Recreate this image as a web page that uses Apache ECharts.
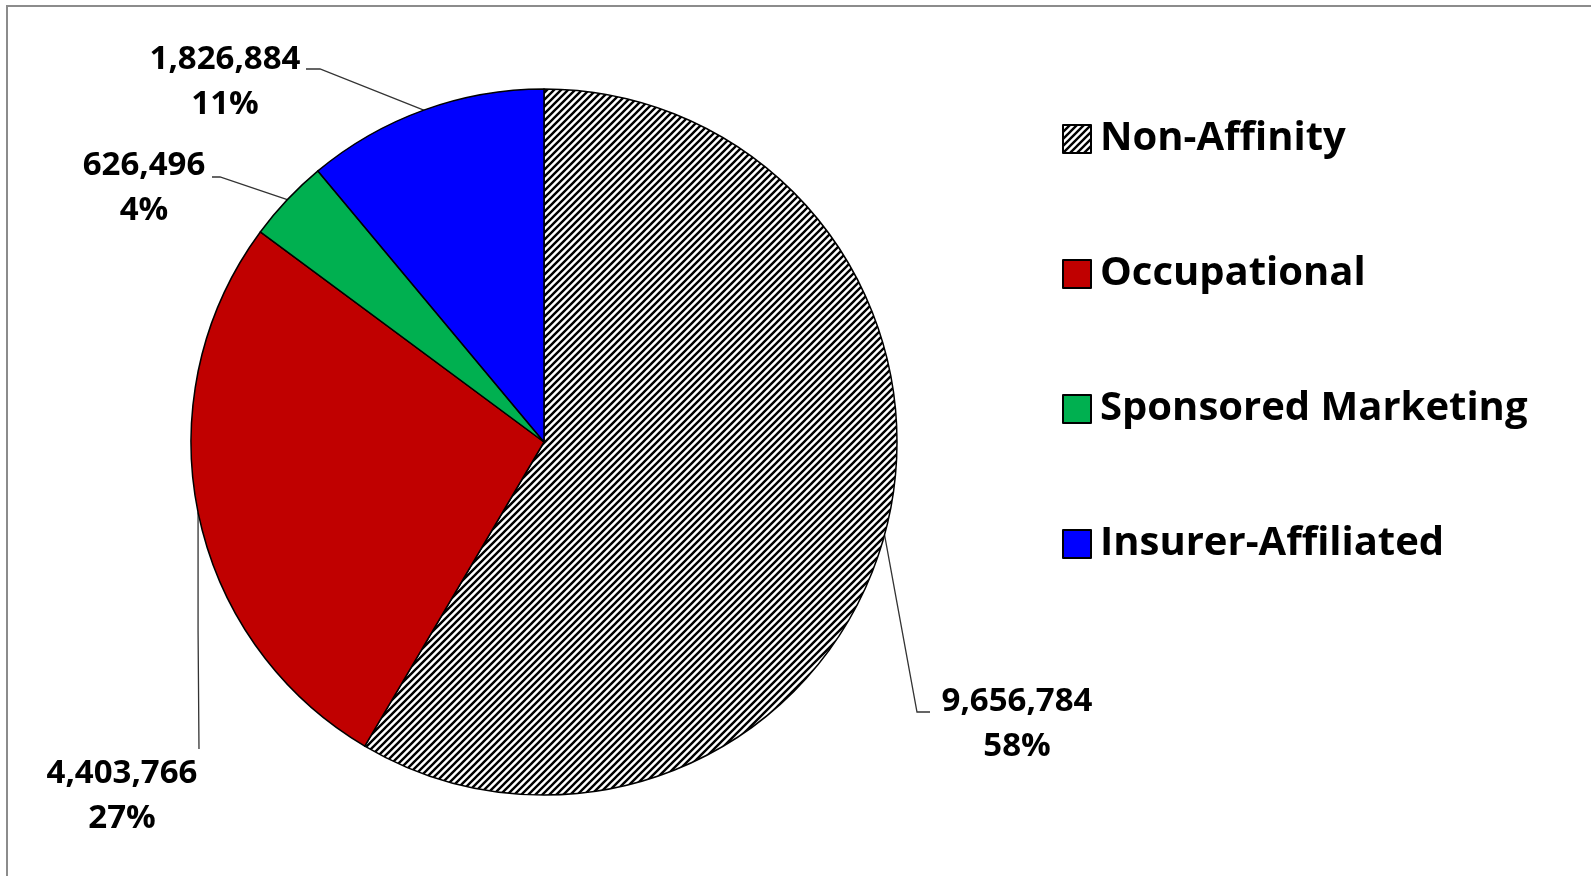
<!DOCTYPE html>
<html>
<head>
<meta charset="utf-8">
<script src="https://cdn.jsdelivr.net/npm/echarts@6/dist/echarts.min.js"></script>
<style>
  html, body { margin: 0; padding: 0; background: #fff; }
  #chart { width: 1591px; height: 876px; }
  #frame {
    position: absolute; left: 6px; top: 5px; right: 0; bottom: 0;
    border-top: 2px solid #8c8c8c; border-left: 2px solid #8c8c8c;
    pointer-events: none;
  }
</style>
</head>
<body>
<div id="chart"></div>
<div id="frame"></div>
<script>
// categories and values, clockwise from 12 o'clock
const categories = ["Non-Affinity", "Occupational", "Sponsored Marketing", "Insurer-Affiliated"];
const values = [9656784, 4403766, 626496, 1826884];
const colors = ["hatch", "#C00000", "#00B050", "#0000FF"];

// where each label block sits and how its leader line bends
const labelSpots = [
  { x: 1017, y: 724, line: [[917, 712], [930, 712]] },
  { x: 122, y: 796, line: [null, [199, 749]] },
  { x: 144, y: 188, line: [[220, 177], [212, 177]] },
  { x: 225, y: 82, line: [[320, 69], [306, 69]] }
];

// diagonal "/" hatch used for Non-Affinity
function makeHatch() {
  const s = 7;
  const c = document.createElement("canvas");
  c.width = s; c.height = s;
  const g = c.getContext("2d");
  g.fillStyle = "#fff";
  g.fillRect(0, 0, s, s);
  g.strokeStyle = "#000";
  g.lineWidth = 2.4;
  g.beginPath();
  g.moveTo(-1, s + 1); g.lineTo(s + 1, -1);
  g.moveTo(-2, 2); g.lineTo(2, -2);
  g.moveTo(s - 2, s + 2); g.lineTo(s + 2, s - 2);
  g.stroke();
  return { image: c, repeat: "repeat" };
}

const hatch = makeHatch();

const chart = echarts.init(document.getElementById("chart"));

const option = {
  backgroundColor: "#fff",
  animation: false,
  legend: {
    orient: "vertical",
    left: 1062,
    top: 116,
    padding: 0,
    itemWidth: 28,
    itemHeight: 28,
    itemGap: 89,
    icon: "rect",
    data: categories,
    textStyle: {
      fontFamily: "Open Sans",
      fontWeight: "bold",
      fontSize: 40,
      lineHeight: 46,
      color: "#000",
      padding: [0, 0, 0, 4]
    }
  },
  series: [
    {
      type: "pie",
      center: [544, 442],
      radius: 353,
      startAngle: 90,
      clockwise: true,
      avoidLabelOverlap: false,
      itemStyle: { borderColor: "#000", borderWidth: 1.5 },
      label: {
        show: true,
        color: "#000",
        fontFamily: "Open Sans",
        fontWeight: "bold",
        fontSize: 33,
        lineHeight: 45,
        align: "center",
        formatter: function (p) {
          return p.value.toLocaleString("en-US") + "\n" + Math.round(p.percent) + "%";
        }
      },
      labelLine: {
        show: true,
        smooth: false,
        lineStyle: { color: "#333", width: 1.3 }
      },
      labelLayout: function (params) {
        const spot = labelSpots[params.dataIndex];
        const start = params.labelLinePoints ? params.labelLinePoints[0] : null;
        let pts = null;
        if (start) {
          const mid = spot.line[0] || [start[0], (start[1] + spot.line[1][1]) / 2];
          pts = [start, mid, spot.line[1]];
        }
        return {
          x: spot.x,
          y: spot.y,
          align: "center",
          verticalAlign: "middle",
          labelLinePoints: pts
        };
      },
      data: categories.map(function (name, i) {
        return {
          name: name,
          value: values[i],
          itemStyle: { color: colors[i] === "hatch" ? hatch : colors[i] }
        };
      })
    }
  ]
};

chart.setOption(option);
</script>
</body>
</html>
